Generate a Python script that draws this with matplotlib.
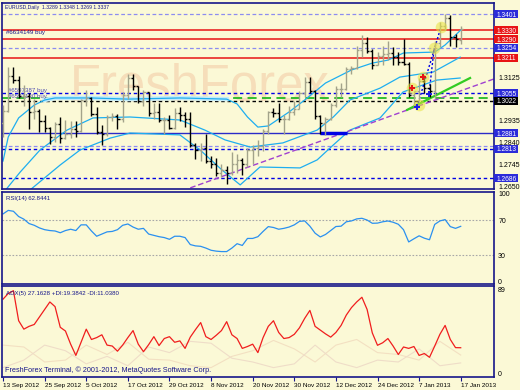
import matplotlib.pyplot as plt
from matplotlib.patches import Rectangle
import numpy as np

plt.rcParams['font.family'] = ['Liberation Sans', 'DejaVu Sans']

BG = '#FBF9D6'
NAVY = '#16168A'
CYAN = '#1EAEF0'
BLUE_BOX = '#2B2BD9'
RED = '#E81414'

# daily bars, 13 Sep 2012 .. 17 Jan 2013
opens = [1.2925, 1.2980, 1.3130, 1.3115, 1.3045, 1.3045, 1.2975, 1.2980, 1.2935, 1.2905,
         1.2865, 1.2920, 1.2860, 1.2880, 1.2900, 1.2890, 1.3025, 1.3035, 1.2965, 1.2885,
         1.2880, 1.2950, 1.2955, 1.2945, 1.3050, 1.3120, 1.3085, 1.3020, 1.3060, 1.2970,
         1.2975, 1.2940, 1.2940, 1.2905, 1.2970, 1.2960, 1.2945, 1.2830, 1.2810, 1.2815,
         1.2760, 1.2745, 1.2710, 1.2720, 1.2710, 1.2745, 1.2765, 1.2745, 1.2810, 1.2815,
         1.2825, 1.2890, 1.2975, 1.2970, 1.2945, 1.2945, 1.2975, 1.2985, 1.3055, 1.3105,
         1.3065, 1.2955, 1.2925, 1.2945, 1.3005, 1.3075, 1.3075, 1.3160, 1.3165, 1.3245,
         1.3275, 1.3240, 1.3180, 1.3220, 1.3225, 1.3230, 1.3215, 1.3190, 1.3185, 1.3050,
         1.3065, 1.3110, 1.3080, 1.3065, 1.3275, 1.3350, 1.3385, 1.3300, 1.3289]
highs = [1.3004, 1.3169, 1.3172, 1.3130, 1.3090, 1.3055, 1.3030, 1.2985, 1.2960, 1.2910,
         1.2930, 1.2950, 1.2940, 1.2935, 1.2935, 1.3030, 1.3070, 1.3040, 1.2995, 1.2915,
         1.2960, 1.2970, 1.2965, 1.3060, 1.3140, 1.3140, 1.3085, 1.3070, 1.3060, 1.3015,
         1.3015, 1.2950, 1.2960, 1.2990, 1.2995, 1.2975, 1.2975, 1.2840, 1.2840, 1.2880,
         1.2780, 1.2775, 1.2745, 1.2740, 1.2800, 1.2790, 1.2775, 1.2815, 1.2830, 1.2850,
         1.2900, 1.2980, 1.2990, 1.3015, 1.2960, 1.3000, 1.3020, 1.3065, 1.3125, 1.3125,
         1.3070, 1.2960, 1.2950, 1.3015, 1.3085, 1.3100, 1.3170, 1.3175, 1.3260, 1.3308,
         1.3300, 1.3250, 1.3235, 1.3260, 1.3285, 1.3255, 1.3235, 1.3290, 1.3190, 1.3065,
         1.3120, 1.3135, 1.3095, 1.3285, 1.3365, 1.3403, 1.3395, 1.3315, 1.3348]
lows = [1.2865, 1.2975, 1.3100, 1.3035, 1.3000, 1.2900, 1.2945, 1.2885, 1.2885, 1.2835,
        1.2845, 1.2840, 1.2855, 1.2860, 1.2865, 1.2885, 1.3000, 1.2955, 1.2880, 1.2830,
        1.2870, 1.2935, 1.2900, 1.2930, 1.3030, 1.3070, 1.3015, 1.3000, 1.2955, 1.2945,
        1.2930, 1.2880, 1.2900, 1.2900, 1.2935, 1.2910, 1.2820, 1.2770, 1.2760, 1.2750,
        1.2730, 1.2695, 1.2690, 1.2660, 1.2700, 1.2710, 1.2700, 1.2735, 1.2745, 1.2780,
        1.2805, 1.2880, 1.2950, 1.2930, 1.2880, 1.2940, 1.2960, 1.2985, 1.3040, 1.3055,
        1.2945, 1.2880, 1.2875, 1.2940, 1.2995, 1.3040, 1.3070, 1.3140, 1.3160, 1.3215,
        1.3230, 1.3160, 1.3180, 1.3180, 1.3200, 1.3180, 1.3180, 1.3180, 1.3040, 1.2995,
        1.3020, 1.3055, 1.3040, 1.3035, 1.3255, 1.3330, 1.3260, 1.3255, 1.3269]
closes = [1.2980, 1.3130, 1.3115, 1.3045, 1.3045, 1.2975, 1.2980, 1.2935, 1.2905, 1.2865,
          1.2920, 1.2860, 1.2880, 1.2900, 1.2890, 1.3025, 1.3035, 1.2965, 1.2885, 1.2880,
          1.2950, 1.2955, 1.2945, 1.3050, 1.3120, 1.3085, 1.3020, 1.3060, 1.2970, 1.2975,
          1.2940, 1.2940, 1.2905, 1.2970, 1.2960, 1.2945, 1.2830, 1.2810, 1.2815, 1.2760,
          1.2745, 1.2710, 1.2720, 1.2710, 1.2745, 1.2765, 1.2745, 1.2810, 1.2815, 1.2825,
          1.2890, 1.2975, 1.2970, 1.2945, 1.2945, 1.2975, 1.2985, 1.3055, 1.3105, 1.3065,
          1.2955, 1.2925, 1.2945, 1.3005, 1.3075, 1.3075, 1.3160, 1.3165, 1.3245, 1.3275,
          1.3240, 1.3180, 1.3220, 1.3225, 1.3230, 1.3215, 1.3190, 1.3185, 1.3050, 1.3065,
          1.3110, 1.3080, 1.3065, 1.3275, 1.3350, 1.3385, 1.3300, 1.3290, 1.3337]

date_pos = [0, 8, 16, 24, 32, 40, 48, 56, 64, 72, 80, 88]
date_labels = ['13 Sep 2012', '25 Sep 2012', '5 Oct 2012', '17 Oct 2012', '29 Oct 2012',
               '8 Nov 2012', '20 Nov 2012', '30 Nov 2012', '12 Dec 2012', '24 Dec 2012',
               '7 Jan 2013', '17 Jan 2013']
price_ticks = [1.2650, 1.2745, 1.2840, 1.2935, 1.3125]

# envelope lines (bar index, price)
upper_idx = [0, 1, 3, 6, 8, 10, 17, 24, 34, 43, 45, 47, 49, 51, 55, 58, 62, 67, 71, 74, 77, 83, 85, 88]
upper_val = [1.2760, 1.2865, 1.2948, 1.3004, 1.3026, 1.3035, 1.3035, 1.3030, 1.3035, 1.3030, 1.3009,
             1.2952, 1.2908, 1.2913, 1.2974, 1.3026, 1.3100, 1.3157, 1.3187, 1.3200, 1.3231, 1.3235,
             1.3266, 1.3331]
mid_idx = [0, 3.3, 7.1, 12.3, 17.3, 24.4, 34, 38.8, 42.7, 47.5, 53.8, 60.4, 63.5, 66.7, 72.5, 76.3, 82.7, 87.9]
mid_val = [1.2620, 1.2712, 1.2808, 1.2895, 1.2948, 1.2952, 1.2939, 1.2895, 1.2852, 1.2821, 1.2839,
           1.2895, 1.2952, 1.3026, 1.3078, 1.3126, 1.3148, 1.3213]
low_idx = [5.2, 11, 14.8, 20.6, 24.4, 34, 37.9, 42.1, 45.6, 49.4, 57.1, 60.4, 63.5, 66.7, 72.5, 76.9, 83.4, 87.9]
low_val = [1.2634, 1.2743, 1.2808, 1.2860, 1.2882, 1.2874, 1.2808, 1.2721, 1.2656, 1.2734, 1.2730,
           1.2765, 1.2830, 1.2895, 1.2948, 1.3061, 1.3113, 1.3122]

rsi = [77, 81, 80, 74, 71, 66, 64, 61, 59, 58, 57.5, 55.5, 58, 59.5, 58, 64.5, 64.5, 57.5, 51.5, 54,
       56.5, 57, 59, 64, 65.5, 62, 59.5, 60.5, 54, 52.5, 51, 50, 48, 51.5, 51.5, 50, 42, 40.5, 40, 38,
       35.5, 34.5, 34, 34, 38, 43, 41, 49, 49, 51, 57, 62.5, 61.5, 59.5, 60.5, 62, 64.5, 68.5, 69, 63,
       55, 50.7, 53.5, 58, 62.6, 63, 68, 69, 71.3, 72, 70, 66.3, 66.5, 68, 68.9, 67.5, 65.2, 59, 45,
       48.6, 52, 49.3, 47.5, 65, 69, 70.5, 62.5, 60.5, 62.8]

adx = [79, 85, 88, 56, 47, 50, 52, 60, 68, 76, 71, 49, 45, 31, 19, 33, 47, 36, 38, 41,
       30, 29, 23.5, 30, 38, 45.5, 31, 23, 30.5, 39, 29.5, 37, 39, 33, 34.5, 26.5, 38.5, 46.5, 54, 39,
       36, 40.5, 45.5, 55, 41, 37, 26.5, 28.5, 31, 22, 38, 50, 56, 43.5, 37, 38, 41.5, 48.5, 58.5, 67,
       50, 46, 42, 38.5, 43.5, 51, 62, 70, 76, 81, 68, 43, 29.8, 32.5, 37, 29, 20, 28, 26.5, 28.5,
       19, 21, 17, 29, 41.5, 51, 36, 27.3, 27.2]
di_idx = [0, 4, 8, 12, 16, 20, 24, 28, 32, 36, 40, 44, 48, 52, 56, 60, 64, 68, 72, 76, 80, 84, 88]
plus_di = [30, 28, 12, 14, 30, 20, 33, 15, 14, 8, 6, 18, 24, 35, 26, 12, 30, 36, 22, 20, 14, 34, 19.4]
minus_di = [6, 14, 30, 24, 10, 18, 8, 28, 22, 34, 32, 16, 12, 6, 10, 30, 12, 6, 14, 12, 26, 8, 11.0]

fig = plt.figure(figsize=(5.2, 3.9), dpi=100, facecolor=BG)


def panel(top, bottom):
    ax = fig.add_axes([2 / 520, 1 - bottom / 390, 492 / 520, (bottom - top) / 390])
    ax.set_facecolor(BG)
    for s in ax.spines.values():
        s.set_color(NAVY)
        s.set_linewidth(1.2)
    ax.set_xlim(-0.2, 94.4)
    ax.yaxis.tick_right()
    ax.tick_params(axis='y', length=0, pad=3, labelsize=5, labelcolor='black')
    ax.tick_params(axis='x', length=0)
    ax.set_xticks([])
    return ax


ax = panel(3, 189)
ax.set_ylim(1.26381, 1.34490)
ax.set_yticks(price_ticks)
ax.set_yticklabels(['%.4f' % t for t in price_ticks])
px = (1.34490 - 1.26381) / 186   # one pixel in price units

ax.text(0.138, 0.475, 'FreshForex', transform=ax.transAxes, fontsize=36.5, color='#F6DEBA',
        va='baseline', ha='left', zorder=0.5)

# horizontal levels
for lv in [1.3330, 1.3290, 1.3211]:
    ax.axhline(lv, color=RED, lw=1.1, zorder=1)
for lv in [1.3401, 1.3254, 1.2825]:
    ax.axhline(lv, color='#8C8CF0', lw=0.9, ls=(0, (3, 2)), zorder=1)
for lv in [1.3055, 1.2813, 1.2686]:
    ax.axhline(lv, color='#0000E6', lw=1.0, ls=(0, (2.5, 2)), zorder=1)
ax.axhline(1.3037, color='#22BB22', lw=1.3, ls=(0, (5, 3)), zorder=1)
ax.axhline(1.3022, color='black', lw=1.0, ls=(0, (2.5, 2)), zorder=1)
ax.axhline(1.2881, color='#2B2BC8', lw=1.0, zorder=1)
ax.hlines(1.2881, 61, 66.2, color='#0000E6', lw=2.5, zorder=3)

ytr = ax.get_yaxis_transform()
ax.text(0.008, 1.3316, '#6634149 buy', fontsize=4.4, color=NAVY, transform=ytr)
ax.text(0.012, 1.3062, '#6597387 buy', fontsize=4.4, color='#5050B0', transform=ytr)
ax.text(0.012, 1.3037, '#6597130 buy', fontsize=4.4, color='#5050B0', transform=ytr)

# envelopes (the flat autumn stretch of the upper one is highlighted)
ax.plot(upper_idx[4:10], upper_val[4:10], color='#C4ECFA', lw=3.2, zorder=1.5)
ax.plot(upper_idx, upper_val, color=CYAN, lw=0.9, zorder=2)
ax.plot(mid_idx, mid_val, color=CYAN, lw=0.9, zorder=2)
ax.plot(low_idx, low_val, color=CYAN, lw=0.9, zorder=2)

# trend lines
ax.plot([36, 94.4], [1.2643, 1.3118], color='#A040D0', lw=1.0, ls=(0, (4, 2)), zorder=2)
ax.plot([77.7, 89.8], [1.2983, 1.3122], color='#33CC22', lw=1.6, zorder=3)
ax.plot([79.6, 84.2], [1.2996, 1.3344], color='#0000E6', lw=1.0, ls=(0, (1.5, 1.5)), zorder=3)
ax.plot([81.9, 82.9], [1.3052, 1.3253], color='#0000E6', lw=1.0, ls=(0, (1.5, 1.5)), zorder=3)

# bars
x = np.arange(len(closes))
o, h, l, c = map(np.array, (opens, highs, lows, closes))
cols = np.where(c >= o, '#A3A38A', 'black')
ax.vlines(x, l, h, colors=cols, lw=1.0, zorder=4)
ax.hlines(o, x - 0.4, x, colors=cols, lw=1.0, zorder=4)
ax.hlines(c, x, x + 0.4, colors=cols, lw=1.0, zorder=4)

# trade marks
ax.scatter([84.2, 82.9, 80.8, 78.7, 79.9], [1.3344, 1.3253, 1.3126, 1.3078, 1.3005],
           s=70, color='#E8E23C', alpha=0.55, lw=0, zorder=5)
ax.scatter([78.7, 80.8], [1.3078, 1.3126], marker='P', s=14, color='#E81414', lw=0, zorder=6)
ax.scatter([79.6, 81.9], [1.2996, 1.3052], marker='P', s=14, color='#1E1EE6', lw=0, zorder=6)

ax.text(0.006, 0.99, 'EURUSD,Daily  1.3289 1.3348 1.3269 1.3337', transform=ax.transAxes,
        va='top', fontsize=3.7, color=NAVY)

boxes = [(1.3401, BLUE_BOX), (1.3330, RED), (1.3290, RED), (1.3254, BLUE_BOX), (1.3211, RED),
         (1.3055, BLUE_BOX), (1.3022, 'black'), (1.2881, BLUE_BOX), (1.2813, BLUE_BOX), (1.2686, BLUE_BOX)]
for lv, col in boxes:
    ax.add_patch(Rectangle((1.001, lv - 4 * px), 0.048, 8 * px, transform=ytr, fc=col, ec='none',
                           clip_on=False, zorder=9))
    ax.text(1.025, lv, '%.4f' % lv, transform=ytr, ha='center', va='center_baseline',
            fontsize=4.8, color='white', clip_on=False, zorder=10)

# RSI
ax2 = panel(192, 284)
ax2.set_ylim(-3, 102)
ax2.set_yticks([0, 30, 70, 100])
ax2.set_yticklabels(['0', '30', '70', '100'])
for lv in [70, 30]:
    ax2.axhline(lv, color='#A8A8A8', lw=0.8, ls=(0, (1.5, 1.5)))
ax2.plot(x, rsi, color='#2A90F0', lw=0.9)
ax2.text(0.008, 0.96, 'RSI(14) 62.8441', transform=ax2.transAxes, va='top', fontsize=4.3, color=NAVY)

# ADX
ax3 = panel(286, 377)
ax3.set_ylim(-4, 93)
ax3.set_yticks([0, 89])
ax3.set_yticklabels(['0', '89'])
ax3.plot(di_idx, plus_di, color='#F3E0C2', lw=0.8)
ax3.plot(di_idx, minus_di, color='#EFDDC8', lw=0.8)
ax3.plot(x, adx, color='#F01E1E', lw=0.9)
ax3.text(0.008, 0.95, 'ADX(5) 27.1628 +DI:19.3842 -DI:11.0380', transform=ax3.transAxes,
         va='top', fontsize=4.4, color=NAVY)
ax3.text(0.006, 0.03, 'FreshForex Terminal, \u00a9 2001-2012, MetaQuotes Software Corp.',
         transform=ax3.transAxes, va='bottom', fontsize=5.2, color=NAVY)
ax3.set_xticks(date_pos)
ax3.set_xticklabels(date_labels, ha='left')
ax3.tick_params(axis='x', length=3, width=0.8, color=NAVY, direction='out', pad=1.5,
                labelsize=4.6, labelcolor='black')

fig.savefig('out.png', dpi=100, facecolor=BG)
